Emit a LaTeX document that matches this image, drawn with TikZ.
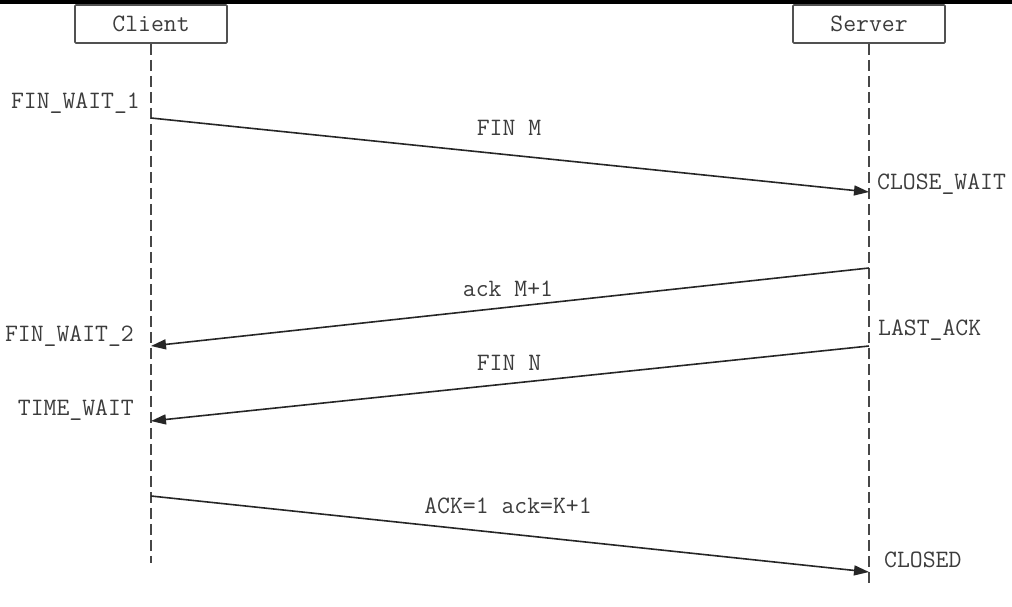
\documentclass[tikz,border=0pt]{standalone}
\usepackage{fontspec}
\usetikzlibrary{arrows.meta}
\definecolor{ink}{HTML}{262626}
\newcommand{\labfont}{\ttfamily\addfontfeatures{FakeBold=1.2}\fontsize{25}{25}\selectfont}
\tikzset{
  actor/.style={draw=ink!80, line width=1.7pt, rounded corners=1pt, minimum width=152pt, minimum height=38pt, inner sep=0pt, font=\labfont, text=ink!90},
  life/.style={draw=ink!85, line width=1.6pt, dash pattern=on 11pt off 5pt},
  msg/.style={draw=ink, line width=1.6pt, -{Triangle[length=15pt,width=10pt]}},
  lbl/.style={font=\labfont, text=ink!90, inner sep=0pt},
}
\begin{document}
\begin{tikzpicture}[x=1pt,y=-1pt]
\useasboundingbox (0,0) rectangle (1012,606);
\fill[black] (0,0) rectangle (1012,4);
% actors
\node[actor] (client) at (151,24) {Client};
\node[actor] (server) at (869,24) {Server};
\coordinate (cend) at (151,563);
\coordinate (send) at (869,587);
\draw[life] (client.south) -- (cend);
\draw[life] (server.south) -- (send);
% message end points
\coordinate (c1) at (151,118);
\coordinate (s1) at (869,192);
\coordinate (s2) at (869,268);
\coordinate (c2) at (151,346);
\coordinate (s3) at (869,346);
\coordinate (c3) at (151,421);
\coordinate (c4) at (151,496);
\coordinate (s4) at (869,572);
\draw[msg] (c1) -- (s1);
\draw[msg] (s2) -- (c2);
\draw[msg] (s3) -- (c3);
\draw[msg] (c4) -- (s4);
% message labels
\node[lbl] (m1) at (509,128) {FIN M};
\node[lbl] (m2) at (508,289) {ack M+1};
\node[lbl] (m3) at (509,363) {FIN N};
\node[lbl] (m4) at (508,506) {ACK=1 ack=K+1};
% states
\node[lbl, anchor=east] (fw1) at (140,103) {FIN\_WAIT\_1};
\node[lbl, anchor=west] (cw) at (877,184) {CLOSE\_WAIT};
\node[lbl, anchor=east] (fw2) at (134,336) {FIN\_WAIT\_2};
\node[lbl, anchor=west] (la) at (878,330) {LAST\_ACK};
\node[lbl, anchor=east] (tw) at (134,410) {TIME\_WAIT};
\node[lbl, anchor=west] (cl) at (884,560) {CLOSED};
\end{tikzpicture}
\end{document}
